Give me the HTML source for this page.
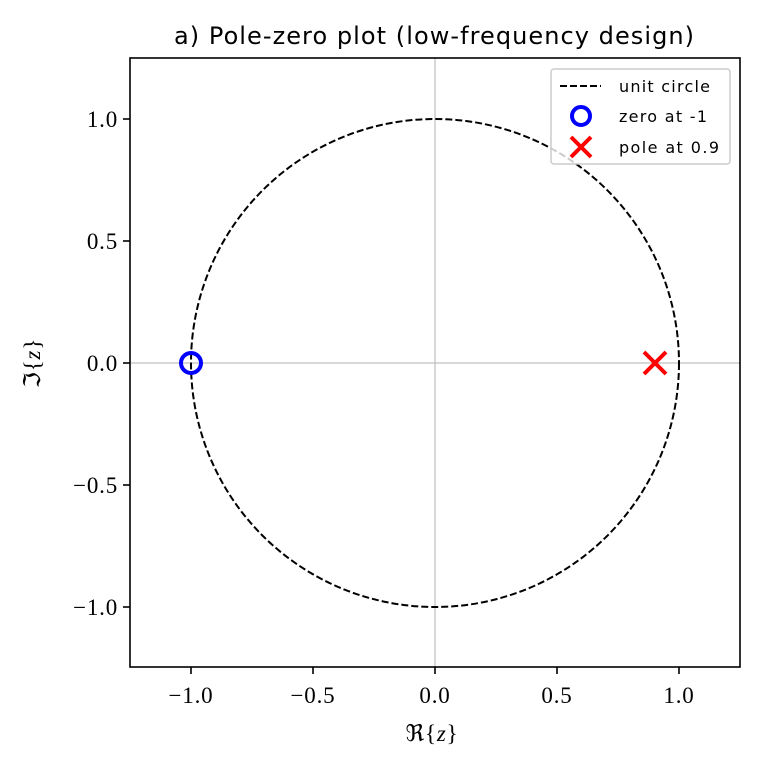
<!DOCTYPE html>
<html><head><meta charset="utf-8"><style>body{margin:0;background:#fff}svg{display:block}</style></head>
<body>
<svg width="759" height="767" viewBox="0 0 759 767" xmlns="http://www.w3.org/2000/svg">
<rect width="759" height="767" fill="#fff"/>
<line x1="435" y1="58" x2="435" y2="667" stroke="#bfbfbf" stroke-width="1.2"/>
<line x1="130" y1="363" x2="740" y2="363" stroke="#bfbfbf" stroke-width="1.2"/>
<circle cx="435" cy="363" r="244" fill="none" stroke="#000" stroke-width="2" stroke-dasharray="7,3"/>
<circle cx="191" cy="363" r="10" fill="none" stroke="#0000ff" stroke-width="4"/>
<g stroke="#ff0000" stroke-width="4"><line x1="644" y1="352" x2="666" y2="374"/><line x1="644" y1="374" x2="666" y2="352"/></g>
<rect x="130" y="58" width="610" height="609" fill="none" stroke="#000" stroke-width="1.6"/>
<g stroke="#000" stroke-width="1.6">
<line x1="191" y1="667" x2="191" y2="674"/><line x1="313" y1="667" x2="313" y2="674"/><line x1="435" y1="667" x2="435" y2="674"/><line x1="557" y1="667" x2="557" y2="674"/><line x1="679" y1="667" x2="679" y2="674"/>
<line x1="123" y1="119" x2="130" y2="119"/><line x1="123" y1="241" x2="130" y2="241"/><line x1="123" y1="363" x2="130" y2="363"/><line x1="123" y1="485" x2="130" y2="485"/><line x1="123" y1="607" x2="130" y2="607"/>
</g>
<g font-family="Liberation Serif, serif" font-size="23" fill="#000" letter-spacing="0.8">
<g text-anchor="middle">
<text x="191" y="703">−1.0</text><text x="313" y="703">−0.5</text><text x="435" y="703">0.0</text><text x="557" y="703">0.5</text><text x="679" y="703">1.0</text>
</g>
<g text-anchor="end">
<text x="118" y="127">1.0</text><text x="118" y="249">0.5</text><text x="118" y="371">0.0</text><text x="118" y="493">−0.5</text><text x="118" y="615">−1.0</text>
</g>
<text x="432" y="741" text-anchor="middle">ℜ{<tspan font-style="italic">z</tspan>}</text>
<text transform="translate(40,363) rotate(-90)" text-anchor="middle">ℑ{<tspan font-style="italic">z</tspan>}</text>
</g>
<text x="434" y="44" text-anchor="middle" font-family="DejaVu Sans, sans-serif" font-size="24" textLength="520">a) Pole-zero plot (low-frequency design)</text>
<rect x="551" y="69" width="179" height="95" rx="3" fill="#fff" fill-opacity="0.8" stroke="#ccc" stroke-width="1.5"/>
<line x1="560" y1="86" x2="601" y2="86" stroke="#000" stroke-width="2" stroke-dasharray="7,3"/>
<circle cx="581" cy="116" r="9" fill="none" stroke="#0000ff" stroke-width="4"/>
<g stroke="#ff0000" stroke-width="4"><line x1="571" y1="137" x2="591" y2="157"/><line x1="571" y1="157" x2="591" y2="137"/></g>
<g font-family="DejaVu Sans, sans-serif" font-size="16" fill="#000">
<text x="619" y="92" textLength="91">unit circle</text><text x="619" y="122" textLength="88">zero at -1</text><text x="619" y="153" textLength="100">pole at 0.9</text>
</g>
</svg>
</body></html>
